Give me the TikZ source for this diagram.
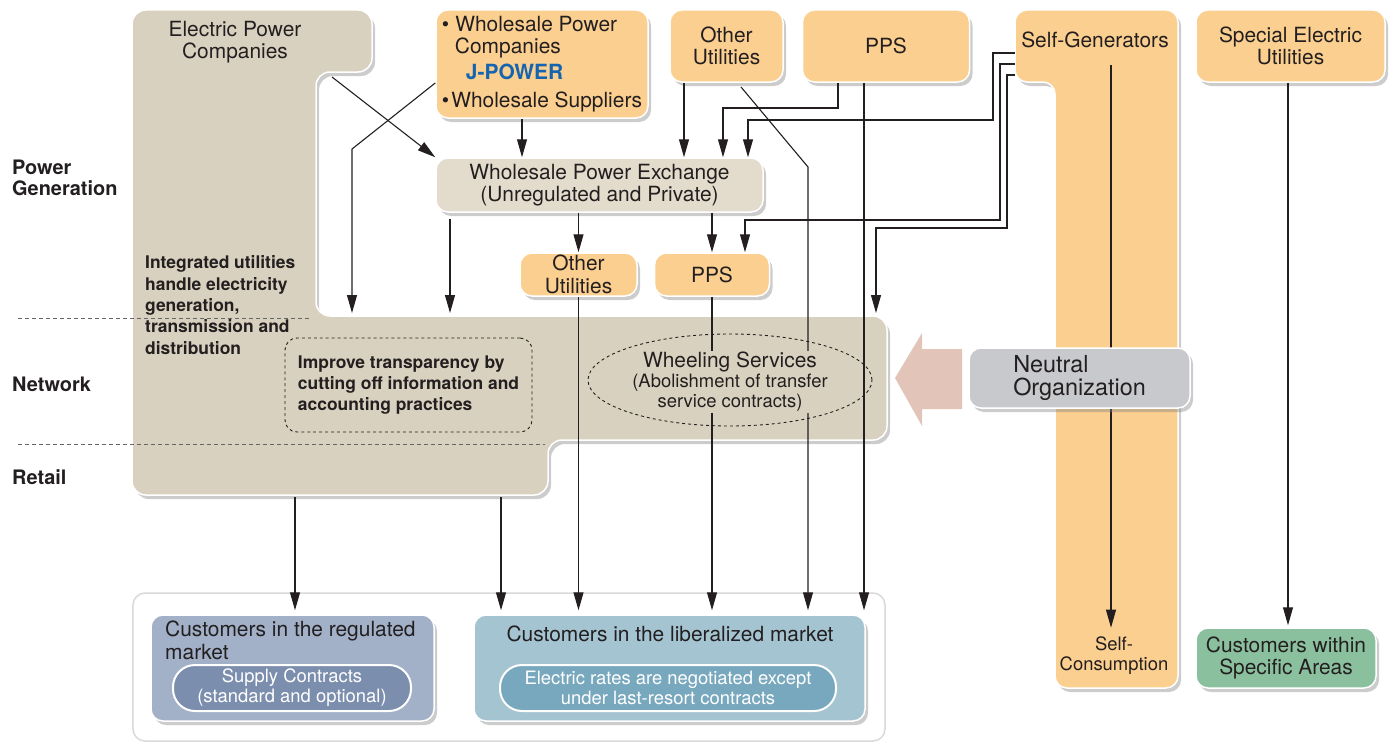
\documentclass[tikz,border=0pt]{standalone}
\usepackage{fontspec}
\setmainfont{TeX Gyre Heros}
\usepackage{tikz}
\usetikzlibrary{arrows.meta, positioning, shapes.geometric, shadows, calc}

\definecolor{epctan}{RGB}{217,209,191}
\definecolor{exchtan}{RGB}{227,220,204}
\definecolor{genorange}{RGB}{251,207,143}
\definecolor{neutralgray}{RGB}{200,201,204}
\definecolor{arrowpink}{RGB}{226,196,184}
\definecolor{regblue}{RGB}{162,176,200}
\definecolor{regpill}{RGB}{124,142,173}
\definecolor{libblue}{RGB}{165,196,210}
\definecolor{libpill}{RGB}{120,168,189}
\definecolor{areagreen}{RGB}{139,192,158}
\definecolor{jpblue}{RGB}{20,100,176}
\definecolor{textgray}{RGB}{35,31,32}

\newcommand{\boxfont}{\fontsize{21}{22.5}\selectfont}
\newcommand{\smallfont}{\fontsize{18.5}{20}\selectfont}
\newcommand{\notefont}{\fontsize{17.5}{21.5}\selectfont\bfseries}
\newcommand{\sidefont}{\fontsize{20}{21.5}\selectfont\bfseries}
\newcommand{\neutralfont}{\fontsize{23.5}{23}\selectfont}

\tikzset{font=\boxfont}
\tikzset{every node/.append style={text=textgray}}
\tikzset{panel/.style={draw=white, line width=1.5bp, rounded corners=12bp,
  drop shadow={shadow xshift=3bp, shadow yshift=-4bp, opacity=0.4}}}
\tikzset{genbox/.style={panel, fill=genorange, align=center, inner sep=0pt}}
\tikzset{tanbox/.style={panel, fill=exchtan, align=center, inner sep=0pt}}
\tikzset{pill/.style={draw=white, line width=2bp, rounded corners=22bp, text=white,
  font=\smallfont, align=center, inner sep=0pt}}
\tikzset{note/.style={draw=textgray, dashed, line width=0.9bp}}
\tikzset{sidelabel/.style={anchor=west, align=left, inner sep=0pt, font=\sidefont}}
\tikzset{sepline/.style={draw=black!60, dash pattern=on 4bp off 3bp, line width=0.9bp}}
\tikzset{link/.style={draw=textgray, line width=1.1bp}}
\tikzset{flow/.style={link, -{Triangle[length=18bp, width=10bp]}}}

\begin{document}
\begin{tikzpicture}[x=1bp, y=-1bp]
  \useasboundingbox (0,0) rectangle (1389,744);
  % Areas
  \path[panel, fill=epctan, rounded corners=14bp]
    (132,10) -- (372,10) -- (372,72) -- (316,72) -- (316,316) -- (887,316)
    -- (887,440) -- (548,440) -- (548,495) -- (132,495) -- cycle;
  \path[panel, fill=genorange]
    (1015,10) -- (1178,10) -- (1178,688) -- (1055,688) -- (1055,82)
    -- (1015,82) -- cycle;
  \node[align=center] (epc) at (235,42) {Electric Power\\Companies};
  \node (selfgen) at (1095,40) {Self-Generators};
  \node[align=center, font=\smallfont] (selfcons) at (1114,656) {Self-\\Consumption};
  \draw[sepline] (18,318) -- (312,318);
  \draw[sepline] (18,444) -- (545,444);
  \node[sidelabel] (gen) at (12,178) {Power\\Generation};
  \node[sidelabel] (net) at (12,384) {Network};
  \node[sidelabel] (ret) at (12,477) {Retail};
  \node[sidelabel, font=\notefont] (integ) at (145,305)
    {Integrated utilities\\handle electricity\\generation,\\transmission and\\distribution};

  % Customers
  \node[draw=black!15, line width=1.5bp, fill=white, rounded corners=12bp,
    minimum width=752bp, minimum height=148bp] (market) at (509,667) {};
  \node[panel, fill=regblue, minimum width=283bp, minimum height=106bp] (regbox) at (292.5,668) {};
  \node[anchor=north west, align=left, inner sep=0pt] (regtitle) at (165,621)
    {Customers in the regulated\\market};
  \node[pill, fill=regpill, minimum width=238bp, minimum height=46bp] (regpill) at (292,688)
    {Supply Contracts\\(standard and optional)};
  \node[panel, fill=libblue, minimum width=391bp, minimum height=106bp] (libbox) at (669.5,668) {};
  \node[inner sep=0pt] (libtitle) at (670,634) {Customers in the liberalized market};
  \node[pill, fill=libpill, minimum width=336bp, minimum height=46bp] (libpill) at (668,688)
    {Electric rates are negotiated except\\under last-resort contracts};
  \node[panel, fill=areagreen, minimum width=180bp, minimum height=60bp, align=center]
    (area) at (1286,658) {Customers within\\Specific Areas};

  % Generators and exchange
  \node[genbox, align=left, minimum width=212bp, minimum height=108bp] (wpc) at (542,64)
    {\textbullet\hspace{6bp}Wholesale Power\\\hspace*{13bp}Companies\\[3bp]
     \hspace*{24bp}\textbf{\textcolor{jpblue}{J-POWER}}\\[6bp]
     \textbullet\hspace{2bp}Wholesale Suppliers};
  \node[genbox, minimum width=113bp, minimum height=72bp] (otherutil) at (726.5,46) {Other\\Utilities};
  \node[genbox, minimum width=167bp, minimum height=72bp, right=18bp of otherutil] (ppstop) {PPS};
  \node[genbox, minimum width=189bp, minimum height=72bp] (special) at (1290.5,46)
    {Special Electric\\Utilities};
  \node[tanbox, minimum width=327bp, minimum height=54bp] (wpx) at (599.5,185)
    {Wholesale Power Exchange\\(Unregulated and Private)};
  \node[genbox, minimum width=117bp, minimum height=43bp] (othermid) at (578.5,274.5) {Other\\Utilities};
  \node[genbox, minimum width=115bp, minimum height=43bp, right=16bp of othermid] (ppsmid) {PPS};
  \node[note, rounded corners=12bp, minimum width=247bp, minimum height=94bp, align=left,
    font=\notefont] (transp) at (408.5,385)
    {Improve transparency by\\cutting off information and\\accounting practices};

  \coordinate (epcin) at (332,77);
  \coordinate (netA) at (352,313);
  \coordinate (netB) at (450,313);
  \coordinate (netC) at (876,313);
  \coordinate (retA) at (295,497);
  \coordinate (retB) at (501,497);
  \coordinate (sga) at (1015,53);
  \coordinate (sgb) at (1015,64);
  \coordinate (sgc) at (1015,75);

  % Flows
  \draw[flow, shorten >=4bp] (741,87) -- (808,167) -- (808,0 |- libbox.north);
  \node[fill=epctan, inner sep=1bp, align=center, font=\smallfont] (wheeltxt) at (730,382)
    {\boxfont Wheeling Services\\(Abolishment of transfer\\service contracts)};
  \node[note, ellipse, minimum width=284bp, minimum height=92bp] (wheel) at (730,380) {};
  \draw[flow] (epcin) -- (wpx.north west);
  \draw[flow] ($(wpc.west)+(0,19)$) -- (352,149) -- (netA);
  \draw[flow] (522,0 |- wpc.south) -- (522,0 |- wpx.north);
  \draw[flow] ($(netB |- wpx.south)+(0,6)$) -- (netB);
  \draw[flow] (wpx.south -| othermid) -- (othermid.north);
  \draw[flow] (684,0 |- otherutil.south) -- (684,0 |- wpx.north);
  \draw[flow] (838,0 |- ppstop.south) |- (723,108) -- (723,0 |- wpx.north);
  \draw[flow] (sga) -| (993,120) -| (748,0 |- wpx.north);
  \draw[flow] (sgb) -| (1000,220) -| (745,0 |- ppsmid.north);
  \draw[flow] (sgc) -| (1007,228) -| (netC);
  \draw[flow] (wpx.south -| ppsmid) -- (ppsmid.north);
  \draw[flow, shorten >=4bp] (864,0 |- ppstop.south) -- (864,0 |- libbox.north);
  \draw[flow, shorten >=4bp] (othermid.south) -- (othermid.south |- libbox.north);
  \draw[link] (ppsmid.south) -- (ppsmid.south |- wheeltxt.north);
  \draw[flow, shorten >=4bp] (ppsmid.south |- wheeltxt.south) -- (ppsmid.south |- libbox.north);
  \draw[flow, shorten >=4bp] (retA) -- (retA |- regbox.north);
  \draw[flow, shorten >=4bp] (retB) -- (retB |- libbox.north);
  \draw[flow, shorten >=2bp] (1288,0 |- special.south) -- (1288,0 |- area.north);
  \draw[flow, shorten >=6bp] (1111,65) -- (1111,0 |- selfcons.north);

  % Neutral organization
  \fill[arrowpink] (895,378) -- (922,333) -- (922,349) -- (962,349) -- (962,409)
    -- (922,409) -- (922,426) -- cycle;
  \node[panel, fill=neutralgray, minimum width=221bp, minimum height=60bp, align=left,
    font=\neutralfont, inner sep=0pt] (neutral) at (1079.5,378) {Neutral\\Organization};
\end{tikzpicture}
\end{document}
